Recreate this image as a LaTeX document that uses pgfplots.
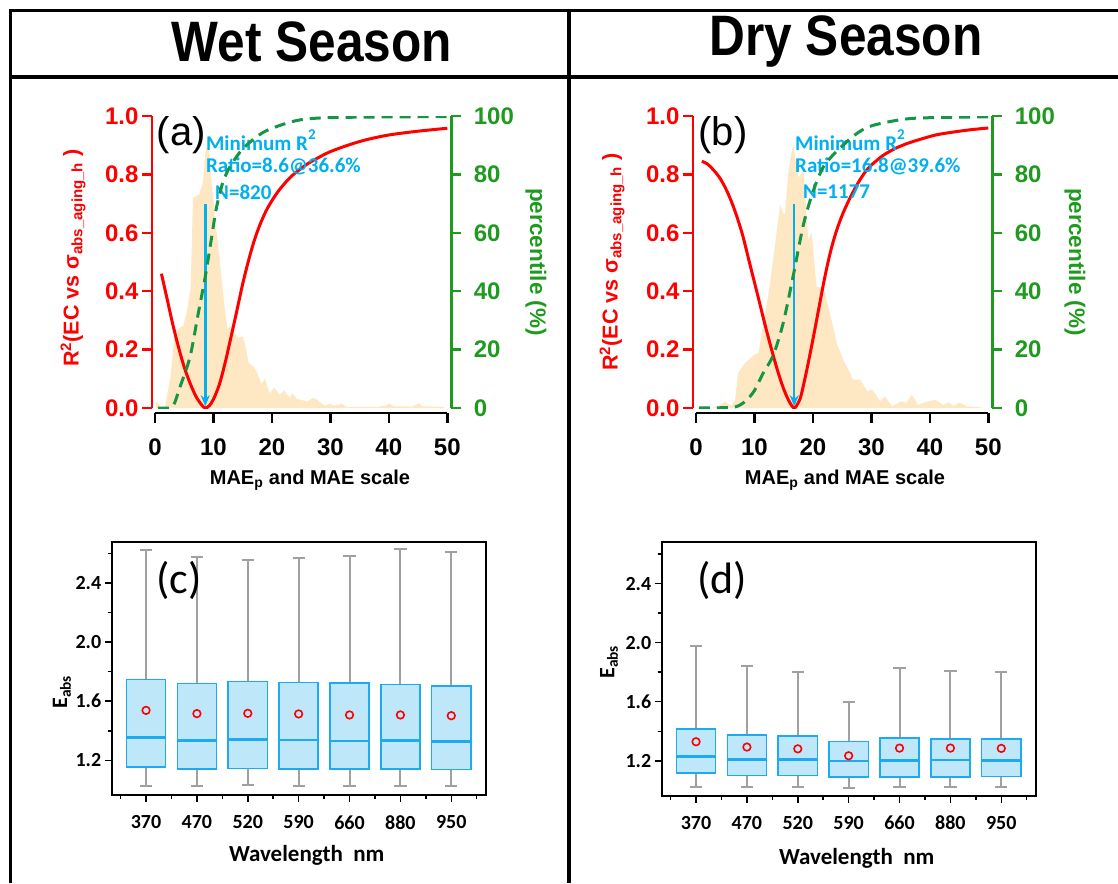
\documentclass[border=0pt]{standalone}
\usepackage{fontspec}
\usepackage{graphicx}
\usepackage{pgfplots}
\pgfplotsset{compat=1.18}
\usepgfplotslibrary{statistics}
\usetikzlibrary{arrows.meta}
\setmainfont{Liberation Sans}
\newfontfamily\arial{Liberation Sans}
\newfontfamily\calibri{Carlito}
\definecolor{myred}{RGB}{255,0,0}
\definecolor{axgreen}{RGB}{30,155,30}
\definecolor{dashgreen}{RGB}{20,150,70}
\definecolor{skyb}{RGB}{0,176,240}
\definecolor{histc}{RGB}{253,232,195}
\definecolor{boxfill}{RGB}{190,232,250}
\definecolor{boxedge}{RGB}{30,170,240}
\definecolor{whisk}{RGB}{160,160,160}
\pgfplotsset{
 topaxis/.style={scale only axis, width=292.3pt, height=292pt, xmin=0, xmax=50,
   tick align=outside, major tick length=10pt, separate axis lines,
   /pgf/number format/assume math mode=true},
 redaxis/.style={topaxis, ymin=0, ymax=1,
   axis x line*=bottom, axis y line*=left, axis x line shift=5pt, axis y line shift=3pt,
   x axis line style={black,line width=2.5pt}, y axis line style={myred,line width=2.5pt},
   xtick={0,10,20,30,40,50}, ytick={0,0.2,0.4,0.6,0.8,1.0},
   xtick style={black,line width=2.5pt}, ytick style={myred,line width=2.5pt},
   xticklabel style={font=\arial\bfseries\fontsize{24}{24}\selectfont, black, yshift=-12pt},
   yticklabel style={font=\arial\bfseries\fontsize{24}{24}\selectfont, myred,
     /pgf/number format/fixed, /pgf/number format/fixed zerofill, /pgf/number format/precision=1}},
 greenaxis/.style={topaxis, ymin=0, ymax=100,
   axis y line*=right, axis x line=none, axis y line shift=4pt,
   y axis line style={axgreen,line width=2.5pt},
   ytick={0,20,40,60,80,100}, ytick style={axgreen,line width=2.5pt},
   yticklabel style={font=\arial\bfseries\fontsize{24}{24}\selectfont, axgreen, xshift=9pt}},
 boxaxis/.style={scale only axis, width=373.9pt, height=253.3pt,
   xmin=-0.675, xmax=6.675, ymin=0.965, ymax=2.68,
   axis line style={line width=2pt},
   xtick={0,...,6}, xticklabels={370,470,520,590,660,880,950},
   minor xtick={-0.5,0.5,1.5,2.5,3.5,4.5,5.5,6.5},
   ytick={1.2,1.6,2.0,2.4}, minor ytick={1.4,1.8,2.2,2.6},
   xtick pos=bottom, ytick pos=left, tick align=outside,
   major tick length=7pt, minor tick length=4pt,
   tick style={black,line width=1.5pt},
   ticklabel style={font=\calibri\bfseries\fontsize{20}{20}\selectfont},
   xticklabel style={yshift=-10pt},
   yticklabel style={/pgf/number format/fixed, /pgf/number format/fixed zerofill, /pgf/number format/precision=1},
   /pgf/number format/assume math mode=true,
   boxplot/draw direction=y, boxplot/box extend=0.77, boxplot/whisker extend=0.24,
   boxplot/every box/.style={draw=boxedge, fill=boxfill, line width=1.5pt},
   boxplot/every whisker/.style={draw=whisk, line width=2pt},
   boxplot/every median/.style={draw=boxedge, line width=2.8pt}},
 meanmk/.style={only marks, mark=o, mark size=3.8pt, red, line width=1.6pt},
}
\begin{document}
\begin{tikzpicture}
\useasboundingbox (0pt,0pt) rectangle (1118pt,-883pt);
\fill[white] (0pt,0pt) rectangle (1118pt,-883pt);
% frame
\draw[line width=3pt] (10pt,-883pt) -- (10pt,-11pt) -- (1125pt,-11pt);
\draw[line width=4pt] (8.5pt,-77pt) -- (1125pt,-77pt);
\draw[line width=4pt] (569pt,-11pt) -- (569pt,-883pt);
\node[font=\arial\bfseries\fontsize{57}{57}\selectfont] at (312pt,-42pt) {\scalebox{0.87}[1]{Wet Season}};
\node[font=\arial\bfseries\fontsize{57}{57}\selectfont] at (846pt,-42pt) {\scalebox{0.87}[1]{Dry Season}};

% ---------- (a) ----------
\begin{axis}[redaxis, at={(155pt,-408pt)}, anchor=south west]
\addplot[fill=histc, draw=none] coordinates {
(0.2,0.02)(0.7,0.015)(1,0)(1.7,0.004)(2.6,0.1)(3.4,0.26)(4.3,0.275)(4.8,0.28)(5.4,0.325)
(6.1,0.41)(6.5,0.72)(7.5,0.73)(8.2,0.77)(8.6,0.87)(9.1,0.93)(9.7,0.77)(10.3,0.64)(10.8,0.56)
(11.4,0.44)(12.0,0.33)(12.4,0.27)(13.0,0.28)(13.6,0.255)(14.3,0.24)(15.0,0.245)(15.6,0.2)
(16.0,0.155)(16.9,0.14)(17.5,0.12)(18.2,0.082)(18.8,0.1)(19.6,0.05)(20.4,0.07)(21.3,0.045)
(22.1,0.06)(23.0,0.035)(23.5,0.05)(24.3,0.03)(25,0.028)(26,0.022)(27,0.034)(27.6,0.03)
(28.5,0.015)(29.2,0.008)(30,0.015)(30.6,0.008)(31.3,0.01)(32,0.015)(32.8,0.003)(35,0.004)
(38,0.004)(39.5,0.008)(40.1,0.016)(40.8,0.006)(44,0.005)(45.1,0.016)(45.8,0.006)(49.4,0.004)(49.5,0)
} \closedcycle;
\addplot[myred, line width=3pt, smooth, tension=0.5] coordinates {
(1.1,0.46)(2,0.38)(3,0.29)(4,0.21)(5,0.14)(6,0.085)(7,0.04)(8,0.01)(8.6,0)(9.3,0.008)(10,0.03)
(11,0.08)(12,0.155)(13,0.243)(14,0.333)(15,0.425)(16,0.505)(17,0.575)(18,0.63)(19,0.675)
(20,0.71)(21,0.74)(22,0.765)(23,0.787)(24,0.805)(26,0.835)(28,0.858)(30,0.878)(33,0.9)
(36,0.918)(40,0.935)(45,0.948)(50,0.958)};
\addplot[skyb, line width=2.5pt, -{Stealth[length=11pt,width=9pt]}] coordinates {(8.6,0.70) (8.6,0.006)};
\node[anchor=west, inner sep=0, font=\arial\fontsize{40}{40}\selectfont] at (axis cs:0.3,0.935) {(a)};
\node[anchor=west, inner sep=0, skyb, font=\calibri\bfseries\fontsize{21}{21}\selectfont] at (axis cs:8.7,0.918) {Minimum R\raisebox{0.55em}{\fontsize{15}{15}\selectfont 2}};
\node[anchor=west, inner sep=0, skyb, font=\calibri\bfseries\fontsize{21}{21}\selectfont] at (axis cs:8.7,0.829) {Ratio=8.6@36.6\%};
\node[anchor=west, inner sep=0, skyb, font=\calibri\bfseries\fontsize{21}{21}\selectfont] at (axis cs:10.27,0.74) {N=820};
\end{axis}
\begin{axis}[greenaxis, at={(155pt,-408pt)}, anchor=south west]
\addplot[dashgreen, line width=3pt, dash pattern=on 11pt off 7pt, smooth, tension=0.5] coordinates {
(0.5,0)(2.5,0)(3.2,1)(4.3,7.3)(6,17.6)(7.4,32.4)(8.6,45)(9.7,58.6)(10.5,68.5)(11.7,78)
(12.5,81.5)(14.9,88.5)(18.6,94.5)(23.7,98.2)(28,99.3)(35,99.6)(50,99.8)};
\end{axis}

% ---------- (b) ----------
\begin{axis}[redaxis, at={(696pt,-408pt)}, anchor=south west]
\addplot[fill=histc, draw=none] coordinates {
(0.7,0)(3,0.002)(4.1,0.01)(5,0.022)(5.6,0.012)(6.1,0.01)(6.7,0.03)(7.2,0.12)(8.4,0.154)
(9.8,0.18)(10.7,0.19)(11.5,0.29)(12.4,0.39)(13.2,0.51)(14.4,0.695)(14.9,0.67)(15.2,0.66)
(15.8,0.81)(16.6,0.905)(17.5,0.79)(18.4,0.81)(19.2,0.575)(19.8,0.6)(20.6,0.416)(21.8,0.41)
(22.9,0.325)(24.1,0.22)(25.2,0.165)(26.9,0.097)(28.1,0.097)(29.3,0.057)(30.1,0.063)
(31.5,0.023)(32.3,0.04)(33.5,0.006)(35.2,0.023)(36,0.017)(36.9,0.046)(38,0.01)(39.2,0.02)
(40.9,0.028)(42.3,0.01)(43.2,0.02)(44,0.007)(45.1,0.018)(46.3,0.006)(48.9,0.002)(49.2,0)
} \closedcycle;
\addplot[myred, line width=3pt, smooth, tension=0.5] coordinates {
(1,0.845)(2,0.835)(3,0.815)(4,0.79)(5,0.755)(6,0.71)(7,0.655)(8,0.59)(9,0.51)(10,0.43)
(11,0.35)(12,0.27)(13,0.195)(14,0.125)(15,0.065)(16,0.02)(16.8,0)(17.5,0.018)(18,0.045)
(19,0.135)(20,0.235)(21,0.34)(22,0.445)(23,0.535)(24,0.605)(25,0.66)(26,0.705)(27,0.745)
(28,0.78)(29,0.81)(30,0.832)(32,0.865)(34,0.888)(36,0.905)(38,0.918)(41,0.935)(44,0.945)
(47,0.953)(50,0.959)};
\addplot[skyb, line width=2.5pt, -{Stealth[length=11pt,width=9pt]}] coordinates {(16.8,0.70) (16.8,0.006)};
\node[anchor=west, inner sep=0, font=\arial\fontsize{40}{40}\selectfont] at (axis cs:0.4,0.935) {(b)};
\node[anchor=west, inner sep=0, skyb, font=\calibri\bfseries\fontsize{21}{21}\selectfont] at (axis cs:16.93,0.918) {Minimum R\raisebox{0.55em}{\fontsize{15}{15}\selectfont 2}};
\node[anchor=west, inner sep=0, skyb, font=\calibri\bfseries\fontsize{21}{21}\selectfont] at (axis cs:16.93,0.829) {Ratio=16.8@39.6\%};
\node[anchor=west, inner sep=0, skyb, font=\calibri\bfseries\fontsize{21}{21}\selectfont] at (axis cs:18.3,0.74) {N=1177};
\end{axis}
\begin{axis}[greenaxis, at={(696pt,-408pt)}, anchor=south west]
\addplot[dashgreen, line width=3pt, dash pattern=on 11pt off 7pt, smooth, tension=0.5] coordinates {
(0.5,0)(6,0.2)(7.5,1)(8.7,2.8)(10,6)(11.5,12)(13.2,18)(14.9,29)(16.6,45)(18.4,63)
(20.1,74.6)(21.8,82.6)(24.1,88)(27.5,94)(30.3,96.8)(36,99)(42,99.5)(50,99.7)};
\end{axis}

% axis labels top
\node[rotate=90, myred, font=\arial\bfseries\fontsize{21.5}{21.5}\selectfont] at (73pt,-258pt) {R\textsuperscript{2}(EC vs σ\textsubscript{abs\_aging\_h} )};
\node[rotate=90, myred, font=\arial\bfseries\fontsize{21.5}{21.5}\selectfont] at (612pt,-262pt) {R\textsuperscript{2}(EC vs σ\textsubscript{abs\_aging\_h} )};
\node[rotate=-90, axgreen, font=\arial\bfseries\fontsize{22.5}{22.5}\selectfont] at (536pt,-262pt) {percentile (\%)};
\node[rotate=-90, axgreen, font=\arial\bfseries\fontsize{22.5}{22.5}\selectfont] at (1075pt,-262pt) {percentile (\%)};
\node[font=\arial\bfseries\fontsize{20}{20}\selectfont] at (310pt,-480pt) {MAE\textsubscript{p} and MAE scale};
\node[font=\arial\bfseries\fontsize{20}{20}\selectfont] at (845pt,-480pt) {MAE\textsubscript{p} and MAE scale};

% ---------- (c) ----------
\begin{axis}[boxaxis, at={(111.7pt,-795pt)}, anchor=south west]
\addplot[boxplot prepared={draw position=0, lower whisker=1.024, lower quartile=1.153, median=1.352, upper quartile=1.746, upper whisker=2.626}] coordinates {};
\addplot[boxplot prepared={draw position=1, lower whisker=1.024, lower quartile=1.142, median=1.333, upper quartile=1.719, upper whisker=2.574}] coordinates {};
\addplot[boxplot prepared={draw position=2, lower whisker=1.031, lower quartile=1.146, median=1.340, upper quartile=1.733, upper whisker=2.558}] coordinates {};
\addplot[boxplot prepared={draw position=3, lower whisker=1.029, lower quartile=1.142, median=1.338, upper quartile=1.728, upper whisker=2.571}] coordinates {};
\addplot[boxplot prepared={draw position=4, lower whisker=1.026, lower quartile=1.140, median=1.331, upper quartile=1.724, upper whisker=2.580}] coordinates {};
\addplot[boxplot prepared={draw position=5, lower whisker=1.024, lower quartile=1.142, median=1.333, upper quartile=1.712, upper whisker=2.630}] coordinates {};
\addplot[boxplot prepared={draw position=6, lower whisker=1.024, lower quartile=1.137, median=1.327, upper quartile=1.703, upper whisker=2.612}] coordinates {};
\addplot[meanmk] coordinates {(0,1.538)(1,1.516)(2,1.518)(3,1.514)(4,1.507)(5,1.507)(6,1.502)};
\node[anchor=west, inner sep=0, font=\calibri\fontsize{44}{44}\selectfont] at (axis cs:0.2,2.42) {(c)};
\end{axis}

% ---------- (d) ----------
\begin{axis}[boxaxis, at={(661.7pt,-795.5pt)}, anchor=south west]
\addplot[boxplot prepared={draw position=0, lower whisker=1.022, lower quartile=1.117, median=1.227, upper quartile=1.417, upper whisker=1.974}] coordinates {};
\addplot[boxplot prepared={draw position=1, lower whisker=1.022, lower quartile=1.099, median=1.209, upper quartile=1.374, upper whisker=1.845}] coordinates {};
\addplot[boxplot prepared={draw position=2, lower whisker=1.020, lower quartile=1.099, median=1.209, upper quartile=1.369, upper whisker=1.802}] coordinates {};
\addplot[boxplot prepared={draw position=3, lower whisker=1.017, lower quartile=1.092, median=1.198, upper quartile=1.329, upper whisker=1.595}] coordinates {};
\addplot[boxplot prepared={draw position=4, lower whisker=1.020, lower quartile=1.092, median=1.200, upper quartile=1.356, upper whisker=1.829}] coordinates {};
\addplot[boxplot prepared={draw position=5, lower whisker=1.020, lower quartile=1.092, median=1.205, upper quartile=1.347, upper whisker=1.807}] coordinates {};
\addplot[boxplot prepared={draw position=6, lower whisker=1.022, lower quartile=1.094, median=1.203, upper quartile=1.349, upper whisker=1.804}] coordinates {};
\addplot[meanmk] coordinates {(0,1.329)(1,1.293)(2,1.281)(3,1.234)(4,1.286)(5,1.286)(6,1.284)};
\node[anchor=west, inner sep=0, font=\calibri\fontsize{44}{44}\selectfont] at (axis cs:0.02,2.42) {(d)};
\end{axis}

\node[rotate=90, font=\calibri\bfseries\fontsize{22}{22}\selectfont] at (62pt,-692pt) {E\textsubscript{abs}};
\node[rotate=90, font=\calibri\bfseries\fontsize{22}{22}\selectfont] at (609pt,-662pt) {E\textsubscript{abs}};
\node[font=\calibri\bfseries\fontsize{23}{23}\selectfont] at (306.7pt,-855pt) {Wavelength\ \ nm};
\node[font=\calibri\bfseries\fontsize{23}{23}\selectfont] at (856.7pt,-858pt) {Wavelength\ \ nm};
\end{tikzpicture}
\end{document}
